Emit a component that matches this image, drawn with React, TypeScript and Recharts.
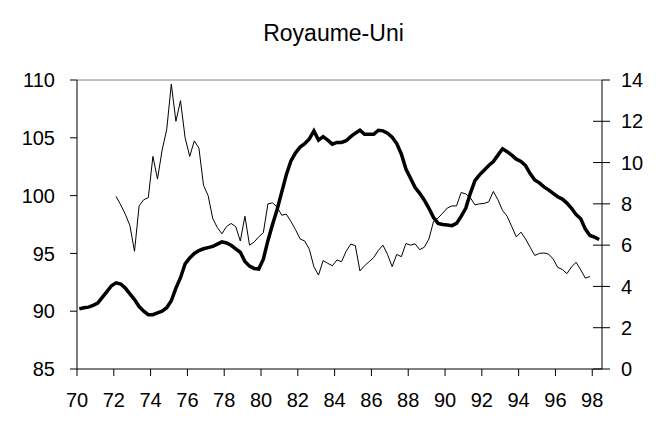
import React from 'react';
import { LineChart, Line, XAxis, YAxis, ReferenceLine } from 'recharts';

// indice (échelle de gauche), trimestriel, 1970T1 - 1998T2
const indexStart = 70;
const indexValues = [
    90.2, 90.3, 90.35, 90.5,
    90.7, 91.2, 91.7, 92.2,
    92.45, 92.35, 92.0, 91.5,
    91.0, 90.4, 90.0, 89.7,
    89.7, 89.85, 90.0, 90.3,
    90.9, 92.0, 92.9, 94.1,
    94.6, 95.0, 95.25, 95.4,
    95.5, 95.6, 95.8, 96.0,
    95.9, 95.7, 95.4, 95.1,
    94.3, 93.9, 93.7, 93.65,
    94.5, 96.1, 97.5, 98.8,
    100.3, 101.8, 103.0, 103.7,
    104.2, 104.5, 104.9, 105.6,
    104.8, 105.1, 104.8, 104.45,
    104.6, 104.6, 104.75, 105.1,
    105.4, 105.65, 105.3, 105.3,
    105.3, 105.65, 105.6, 105.4,
    105.05, 104.5, 103.6, 102.3,
    101.5, 100.7, 100.2, 99.6,
    98.9, 98.1, 97.6, 97.5,
    97.45, 97.4, 97.6, 98.2,
    98.9, 100.2, 101.3, 101.8,
    102.2, 102.6, 102.95, 103.5,
    104.05, 103.8, 103.5, 103.15,
    102.95, 102.6, 101.9, 101.35,
    101.1, 100.75, 100.5, 100.2,
    99.9, 99.7, 99.35, 98.9,
    98.35, 98.0, 97.1, 96.55,
    96.4, 96.2,
];

// taux (échelle de droite), trimestriel, 1972T1 - 1997T4
const rateStart = 72;
const rateValues = [
    8.36, 7.95, 7.5, 6.95,
    5.7, 7.9, 8.2, 8.3,
    10.3, 9.2, 10.6, 11.6,
    13.8, 12.0, 13.0, 11.2,
    10.3, 11.05, 10.7, 8.9,
    8.4, 7.3, 6.85, 6.55,
    6.9, 7.05, 6.9, 6.2,
    7.4, 6.0, 6.15, 6.4,
    6.6, 8.0, 8.05, 7.85,
    7.45, 7.5, 7.15, 6.75,
    6.3, 6.2, 5.8, 4.95,
    4.55, 5.25, 5.12, 5.0,
    5.28, 5.2, 5.7, 6.05,
    5.98, 4.75, 5.0, 5.2,
    5.4, 5.74, 6.0, 5.55,
    4.96, 5.55, 5.44, 6.08,
    6.0, 6.06, 5.78, 5.9,
    6.3, 7.15, 7.32, 7.55,
    7.8, 7.9, 7.9, 8.55,
    8.48, 8.3, 7.95, 8.0,
    8.02, 8.1, 8.6, 8.2,
    7.68, 7.4, 6.9, 6.4,
    6.63, 6.3, 5.9, 5.5,
    5.6, 5.62, 5.57, 5.33,
    4.92, 4.82, 4.62, 4.95,
    5.17, 4.8, 4.4, 4.48,
];

const yearTicks = [70, 72, 74, 76, 78, 80, 82, 84, 86, 88, 90, 92, 94, 96, 98];
const leftTicks = [85, 90, 95, 100, 105, 110];
const rightTicks = [0, 2, 4, 6, 8, 10, 12, 14];

const indexData = indexValues.map((v, i) => ({ x: indexStart + 0.125 + i * 0.25, v }));
const rateData = rateValues.map((v, i) => ({ x: rateStart + 0.125 + i * 0.25, v }));

const font = 'Arial, "Liberation Sans", sans-serif';
const tickStyle = { fill: '#000', fontSize: 20, fontFamily: font };

// right axis ticks cross the axis line (Excel style)
const RightTick = (props: any) => {
    const { x, y, payload } = props;
    const axisX = x - 19;
    return (
        <g>
            {payload.value !== 14 && <line x1={axisX - 9} x2={axisX} y1={y} y2={y} stroke="#000" />}
            <text x={x} y={y} dy="0.355em" textAnchor="start" {...tickStyle}>
                {payload.value}
            </text>
        </g>
    );
};

const App = () => {
    return (
        <div style={{ position: 'relative', width: 659, height: 425 }}>
            <div
                style={{
                    position: 'absolute',
                    top: 12,
                    left: 0,
                    width: 651,
                    textAlign: 'center',
                    fontFamily: font,
                    fontSize: 23,
                    lineHeight: '26px',
                    color: '#000',
                }}
            >
                Royaume-Uni
            </div>
            <LineChart width={659} height={425} margin={{ top: 72, right: 8, left: 0, bottom: 14 }}>
                <XAxis
                    dataKey="x"
                    type="number"
                    domain={[70, 98.53]}
                    ticks={yearTicks}
                    allowDataOverflow
                    height={50}
                    tickSize={7}
                    tickMargin={17}
                    tick={tickStyle}
                    stroke="#000"
                    interval={0}
                />
                <YAxis
                    yAxisId="left"
                    domain={[85, 110]}
                    ticks={leftTicks}
                    width={69}
                    tickSize={7}
                    tickMargin={15}
                    tick={tickStyle}
                    stroke="#000"
                    interval={0}
                />
                <YAxis
                    yAxisId="right"
                    orientation="right"
                    domain={[0, 14]}
                    ticks={rightTicks}
                    width={57}
                    tickSize={8}
                    tickMargin={11}
                    tick={<RightTick />}
                    stroke="#000"
                    interval={0}
                />
                <ReferenceLine yAxisId="left" y={110} stroke="#808080" />
                <Line
                    yAxisId="right"
                    data={rateData}
                    dataKey="v"
                    type="linear"
                    stroke="#000"
                    strokeWidth={1}
                    dot={false}
                    isAnimationActive={false}
                />
                <Line
                    yAxisId="left"
                    data={indexData}
                    dataKey="v"
                    type="linear"
                    stroke="#000"
                    strokeWidth={3.5}
                    dot={false}
                    isAnimationActive={false}
                />
            </LineChart>
        </div>
    );
};

export default App;
